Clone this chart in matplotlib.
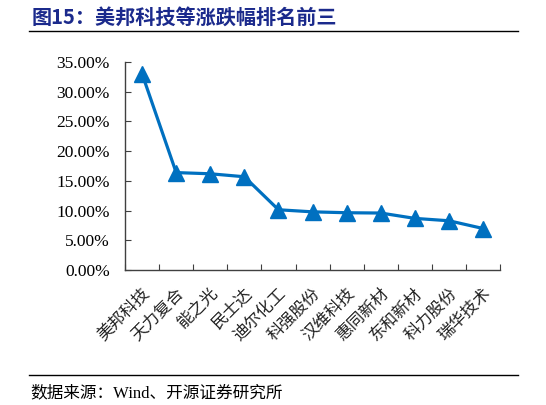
import matplotlib.pyplot as plt
from matplotlib.ticker import FuncFormatter

# 数据
names = ['美邦科技', '天力复合', '能之光', '民士达', '迪尔化工', '科强股份',
         '汉维科技', '惠同新材', '东和新材', '科力股份', '瑞华技术']
pct = [33.0, 16.4, 16.2, 15.7, 10.15, 9.8, 9.65, 9.6, 8.7, 8.3, 7.0]
yticks = [0, 5, 10, 15, 20, 25, 30, 35]

title = '图15：美邦科技等涨跌幅排名前三'
source = '数据来源：Wind、开源证券研究所'

fam = ['Liberation Serif', 'Noto Sans CJK SC']
plt.rcParams['font.family'] = fam

fig = plt.figure(figsize=(5.46, 4.05), dpi=100)
ax = fig.add_axes([0.229, 0.333, 0.687, 0.514])

x = list(range(len(names)))
ax.plot(x, pct, color='#0070C0', linewidth=2.3, marker='^', markersize=11.5)

ax.set_xlim(-0.5, len(names) - 0.5)
ax.set_ylim(0, 35)
ax.set_yticks(yticks)
ax.yaxis.set_major_formatter(FuncFormatter(lambda v, p: f'{v:.2f}%'))
ax.set_xticks([i - 0.5 for i in range(len(names) + 1)], minor=False)
ax.set_xticklabels([])
ax.set_xticks(x, minor=True)
ax.set_xticklabels(names, minor=True, rotation=45, ha='right', va='top',
                   rotation_mode='anchor', fontsize=12, color='#222222')
ax.tick_params(axis='x', which='minor', length=0, pad=11)
ax.tick_params(axis='x', which='major', direction='in', length=4, color='#404040')
ax.tick_params(axis='y', direction='in', length=4, color='#404040', labelsize=12.5, pad=11)

for s in ['top', 'right']:
    ax.spines[s].set_visible(False)
for s in ['left', 'bottom']:
    ax.spines[s].set_color('#404040')
    ax.spines[s].set_linewidth(1.0)

# 标题和来源
fig.text(0.058, 0.958, title, fontsize=14.5, fontweight='bold', color='#1B2A8C',
         va='center', ha='left', family=['Noto Sans CJK SC', 'DejaVu Sans'])
fig.add_artist(plt.Line2D([0.053, 0.949], [0.923, 0.923], color='black', linewidth=1.0))
fig.add_artist(plt.Line2D([0.053, 0.949], [0.074, 0.074], color='black', linewidth=1.0))
fig.text(0.055, 0.030, source, fontsize=12, color='black', va='center', ha='left')

fig.savefig('out.png', dpi=100)
